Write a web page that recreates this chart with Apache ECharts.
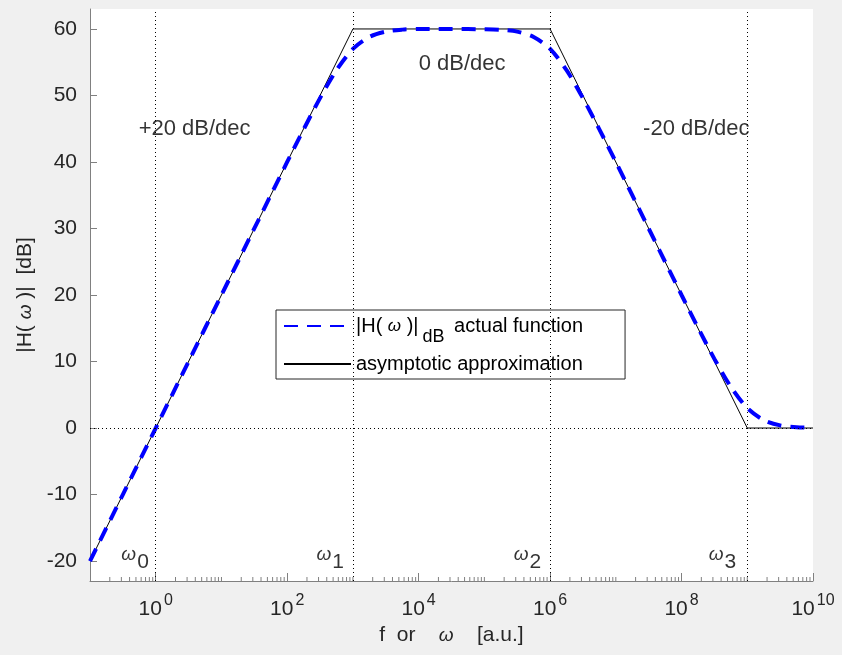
<!DOCTYPE html>
<html>
<head>
<meta charset="utf-8">
<script src="https://cdn.jsdelivr.net/npm/echarts@6/dist/echarts.min.js"></script>
<style>
  html, body { margin: 0; padding: 0; background: #f0f0f0; }
  #chart { width: 842px; height: 655px; }
</style>
</head>
<body>
<div id="chart"></div>
<script>
// values
const freqActual = [0.1, 0.316, 1, 3.16, 10, 31.6, 100, 178, 316, 562, 1e3, 1.78e3, 3.16e3, 5.62e3,
  1e4, 3.16e4, 1e5, 1.78e5, 3.16e5, 5.62e5, 1e6, 1.78e6, 3.16e6, 5.62e6, 1e7, 3.16e7, 1e8,
  1.78e8, 3.16e8, 5.62e8, 1e9, 1.78e9, 3.16e9, 5.62e9, 1e10];
const magActual = [-20, -10, 0, 10, 20, 30, 40, 44.9, 49.6, 53.8, 57.0, 58.8, 59.6, 59.9,
  60.0, 60.0, 59.95, 59.87, 59.6, 58.8, 57.0, 53.8, 49.6, 44.9, 40.0, 30.0, 20.0,
  15.1, 10.4, 6.2, 3.0, 1.2, 0.4, 0.13, 0.04];
const freqAsym = [0.1, 1e3, 1e6, 1e9, 1e10];
const magAsym = [-20, 60, 60, 0, 0];
const cornerFreqs = [1, 1e3, 1e6, 1e9];

const slopeText = ['+20 dB/dec', '0 dB/dec', '-20 dB/dec'];
const slopeX = [0.55, 1e4, 2.6e7];
const slopeY = [45, 54.7, 45];
const omegaIdx = ['0', '1', '2', '3'];
const omegaX = [0.3, 280, 2.8e5, 2.6e8];
const omegaY = [-19, -19, -19, -19];

const xMajorTicks = [1, 1e2, 1e4, 1e6, 1e8, 1e10];
const yTicks = [-20, -10, 0, 10, 20, 30, 40, 50, 60];
const xMinorTicks = [];
for (let n = -1; n < 10; n++) {
  for (let k = 1; k <= 9; k++) {
    if (k === 1 && (n < 0 || n % 2 === 0)) continue;
    xMinorTicks.push(k * Math.pow(10, n));
  }
}

const yMin = -23, yMax = 63;
const font = 'Liberation Sans, Arial, Helvetica, sans-serif';
const axisGray = '#808080';
const textCol = '#262626';

const chart = echarts.init(document.getElementById('chart'));

const option = {
  backgroundColor: '#f0f0f0',
  animation: false,
  textStyle: { fontFamily: font },
  grid: {
    left: 90, right: 29, top: 9, bottom: 74,
    show: true, backgroundColor: '#ffffff', borderWidth: 0
  },
  legend: {
    orient: 'vertical',
    left: 276, top: 310,
    padding: [6, 42, 5, 7],
    itemGap: 8,
    itemWidth: 67, itemHeight: 14,
    borderColor: '#262626', borderWidth: 1,
    backgroundColor: '#ffffff',
    itemStyle: { opacity: 0 },
    data: ['actual', 'asym'],
    formatter: function (name) {
      if (name === 'actual') return '{t||H( }{w|ω}{t| )|}{s|dB}{t| actual function}';
      return '{t|asymptotic approximation}';
    },
    textStyle: {
      color: '#000',
      fontFamily: font,
      rich: {
        t: { fontSize: 20, fontFamily: font, color: '#000' },
        w: { fontSize: 17, fontStyle: 'italic', fontFamily: font, color: '#000' },
        s: { fontSize: 18, fontFamily: font, color: '#000', padding: [22, 4, 0, 4] }
      }
    }
  },
  xAxis: {
    type: 'log', logBase: 10, min: 0.1, max: 1e10,
    splitLine: { show: false },
    axisLine: { onZero: false, lineStyle: { color: axisGray, width: 1 } },
    axisTick: { inside: true, length: 8, customValues: xMajorTicks, lineStyle: { color: axisGray } },
    axisLabel: {
      customValues: xMajorTicks,
      margin: 12,
      formatter: function (v) {
        return '{b|10}{s|' + Math.round(Math.log10(v)) + '}';
      },
      rich: {
        b: { fontSize: 21, color: textCol, fontFamily: font },
        s: { fontSize: 16, color: textCol, fontFamily: font, padding: [0, 0, 17, 2] }
      }
    },
    name: 'f  or    {w|ω}    [a.u.]',
    nameLocation: 'middle',
    nameGap: 44,
    nameTextStyle: {
      fontSize: 21, color: textCol, fontFamily: font,
      rich: { w: { fontSize: 19, fontStyle: 'italic', color: textCol, fontFamily: font } }
    }
  },
  yAxis: {
    type: 'value', min: yMin, max: yMax,
    splitLine: { show: false },
    axisLine: { show: true, lineStyle: { color: axisGray, width: 1 } },
    axisTick: { inside: true, length: 7, customValues: yTicks, lineStyle: { color: axisGray } },
    axisLabel: { customValues: yTicks, margin: 13, fontSize: 21, color: textCol, fontFamily: font },
    name: '|H( {w|ω} )|  [dB]',
    nameLocation: 'middle',
    nameGap: 53,
    nameTextStyle: {
      fontSize: 21, color: textCol, fontFamily: font,
      rich: { w: { fontSize: 19, fontStyle: 'italic', color: textCol, fontFamily: font } }
    }
  },
  series: [
    {
      name: 'minorTicks',
      type: 'custom',
      silent: true,
      data: xMinorTicks.map(v => [v, yMin]),
      renderItem: function (params, api) {
        const p = api.coord([api.value(0), yMin]);
        return {
          type: 'line',
          shape: { x1: p[0], y1: p[1], x2: p[0], y2: p[1] - 4 },
          style: { stroke: axisGray, lineWidth: 1 }
        };
      },
      z: 1
    },
    {
      name: 'asym',
      type: 'line',
      data: freqAsym.map((f, i) => [f, magAsym[i]]),
      showSymbol: false,
      symbol: 'none',
      lineStyle: { color: '#000', width: 1 },
      itemStyle: { color: '#000' },
      z: 3,
      markLine: {
        silent: true,
        symbol: 'none',
        label: { show: false },
        lineStyle: { color: '#000', width: 1, type: [1, 3] },
        data: cornerFreqs.map(f => ({ xAxis: f })).concat([{ yAxis: 0 }])
      }
    },
    {
      name: 'actual',
      type: 'line',
      data: freqActual.map((f, i) => [f, magActual[i]]),
      showSymbol: false,
      symbol: 'none',
      smooth: 0.3,
      lineStyle: { color: '#0000ff', width: 4, type: [14, 9] },
      itemStyle: { color: '#0000ff' },
      z: 4
    },
    {
      name: 'slopeLabels',
      type: 'scatter',
      symbolSize: 0,
      silent: true,
      data: slopeText.map((t, i) => [slopeX[i], slopeY[i], t]),
      label: {
        show: true, position: 'right', distance: 0,
        formatter: p => p.value[2],
        fontSize: 22, color: '#000', fontFamily: font
      },
      z: 5
    },
    {
      name: 'omegaLabels',
      type: 'scatter',
      symbolSize: 0,
      silent: true,
      data: omegaIdx.map((t, i) => [omegaX[i], omegaY[i], t]),
      label: {
        show: true, position: 'right', distance: 0,
        formatter: p => '{w|ω}{s|' + p.value[2] + '}',
        rich: {
          w: { fontSize: 19, fontStyle: 'italic', color: '#000', fontFamily: font },
          s: { fontSize: 21, color: '#000', fontFamily: font, padding: [16, 0, 0, 1] }
        }
      },
      z: 5
    }
  ]
};

chart.setOption(option);
</script>
</body>
</html>
